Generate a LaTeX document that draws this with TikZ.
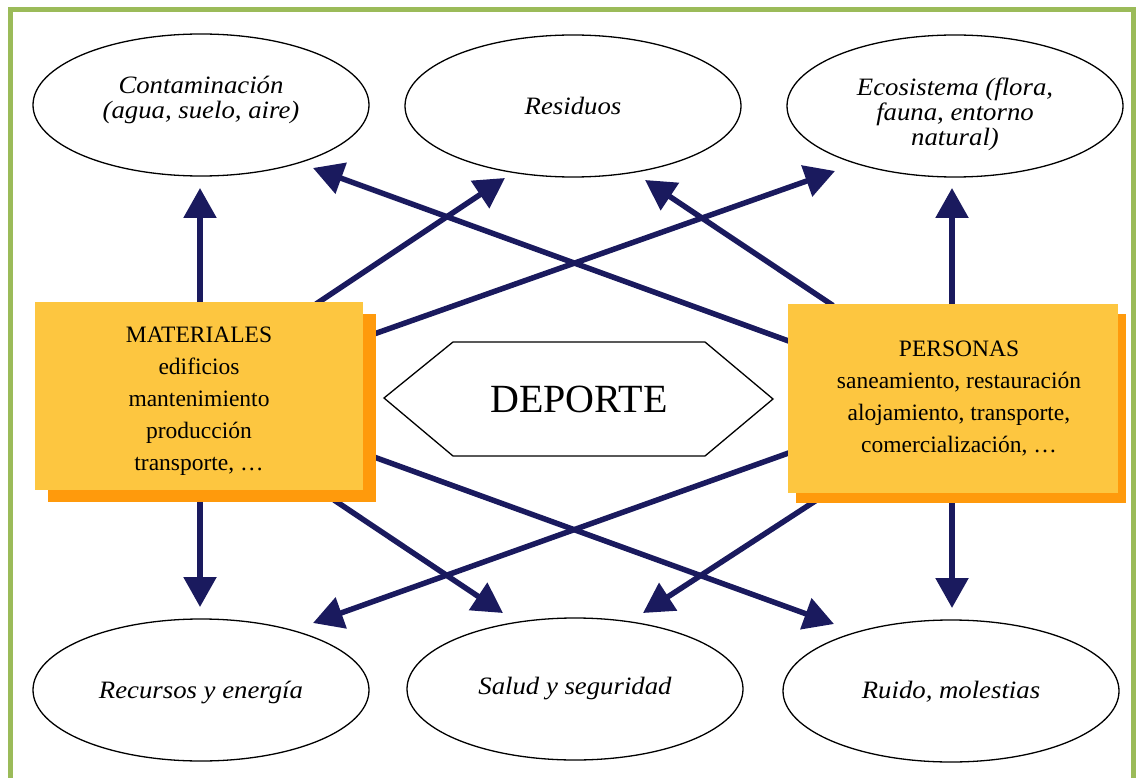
\documentclass[tikz,border=0pt]{standalone}
\usepackage{fontspec}
\setmainfont{Liberation Serif}
\newfontfamily\ellfont[FakeStretch=1.07]{Liberation Serif}
\usetikzlibrary{arrows.meta,calc,shadows,shapes.geometric}
\definecolor{frameg}{HTML}{9BBB59}
\definecolor{navy}{HTML}{1A1A5E}
\definecolor{boxy}{HTML}{FDC640}
\definecolor{boxo}{HTML}{FF9A0C}
\pgfdeclarelayer{bg}
\pgfsetlayers{bg,main}
\tikzset{
  ell/.style={draw=black, line width=1.3pt, fill=white, ellipse, minimum width=336pt,
    minimum height=142pt, inner sep=0pt},
  elltext/.style={inner sep=0pt, align=center,
    font=\ellfont\itshape\fontsize{25}{25}\selectfont},
  matbox/.style={fill=boxy, inner sep=0pt, minimum height=188pt},
  boxtext/.style={inner sep=0pt, align=center, font=\fontsize{23.5}{32}\selectfont},
  arr/.style={draw=navy, line width=5.5pt, -{Triangle[width=32pt,length=30pt]}},
  hexa/.style={draw=black, line width=1.3pt, fill=white}
}
\begin{document}
\begin{tikzpicture}[x=1pt,y=-1pt]
\useasboundingbox (0,0) rectangle (1140,778);
\clip (0,0) rectangle (1140,778);
\draw[frameg, line width=5pt] (10.5,9.5) rectangle (1133,800);

% ellipses
\node[ell, label={[elltext, yshift=5pt]center:{Contaminación\\(agua, suelo, aire)}}] (cont) at (201,105) {};
\node[ell, label={[elltext]center:Residuos}] (res) at (573,106) {};
\node[ell, label={[elltext, yshift=-8pt]center:{Ecosistema (flora,\\fauna, entorno\\natural)}}] (eco) at (955,106) {};
\node[ell, label={[elltext, yshift=-3pt]center:{Recursos y energía}}] (rec) at (201,690) {};
\node[ell, label={[elltext]center:{Salud y seguridad}}] (sal) at (575,689) {};
\node[ell, label={[elltext, yshift=-1pt]center:{Ruido, molestias}}] (rui) at (951,691) {};

% boxes
\node[matbox, minimum width=328pt,
  general shadow={fill=boxo, shadow xshift=12.5pt, shadow yshift=-12pt},
  label={[boxtext, yshift=-5pt]center:{MATERIALES\\edificios\\mantenimiento\\producción\\transporte, \dots}}]
  (mat) at (199,396) {};
\node[matbox, minimum width=330pt, minimum height=189pt,
  general shadow={fill=boxo, shadow xshift=7.5pt, shadow yshift=-10pt},
  label={[boxtext, xshift=6pt]center:{PERSONAS\\saneamiento, restauración\\alojamiento, transporte,\\comercialización, \dots}}]
  (per) at (953,398.5) {};

% DEPORTE
\draw[hexa] (384,398) coordinate (h1) -- (453,342) coordinate (h2) -- (705,342) coordinate (h3)
  -- (773,399) coordinate (h4) -- (705,456) coordinate (h5) -- (453,456) coordinate (h6) -- cycle;
\node[font=\fontsize{40}{40}\selectfont, inner sep=0pt] (dep) at (579,399) {DEPORTE};

% arrows
\begin{pgfonlayer}{bg}
\draw[arr] ($(mat.north)+(1,2)$) -- ($(cont.center)+(-1,83)$);
\draw[arr] ($(mat.center)+(117,-92)$) -- ($(res.center)+(-68,72)$);
\draw[arr] ($(mat.center)+(175,-62)$) -- ($(eco.center)+(-120,65)$);
\draw[arr] ($(per.center)+(-163,-57)$) -- ($(cont.center)+(112,63)$);
\draw[arr] ($(per.center)+(-120,-93)$) -- ($(res.center)+(72,74)$);
\draw[arr] ($(per.center)+(-1,-92)$) -- ($(eco.center)+(-3,82)$);
\draw[arr] ($(mat.center)+(1,104)$) -- ($(rec.center)+(-1,-83)$);
\draw[arr] ($(mat.center)+(135,104)$) -- ($(sal.center)+(-72,-76)$);
\draw[arr] ($(mat.center)+(175,61)$) -- ($(rui.center)+(-117,-67)$);
\draw[arr] ($(per.center)+(-163,54)$) -- ($(rec.center)+(112,-67)$);
\draw[arr] ($(per.center)+(-137,102)$) -- ($(sal.center)+(68,-76)$);
\draw[arr] ($(per.center)+(-1,103)$) -- ($(rui.center)+(1,-83)$);
\end{pgfonlayer}
\end{tikzpicture}
\end{document}
